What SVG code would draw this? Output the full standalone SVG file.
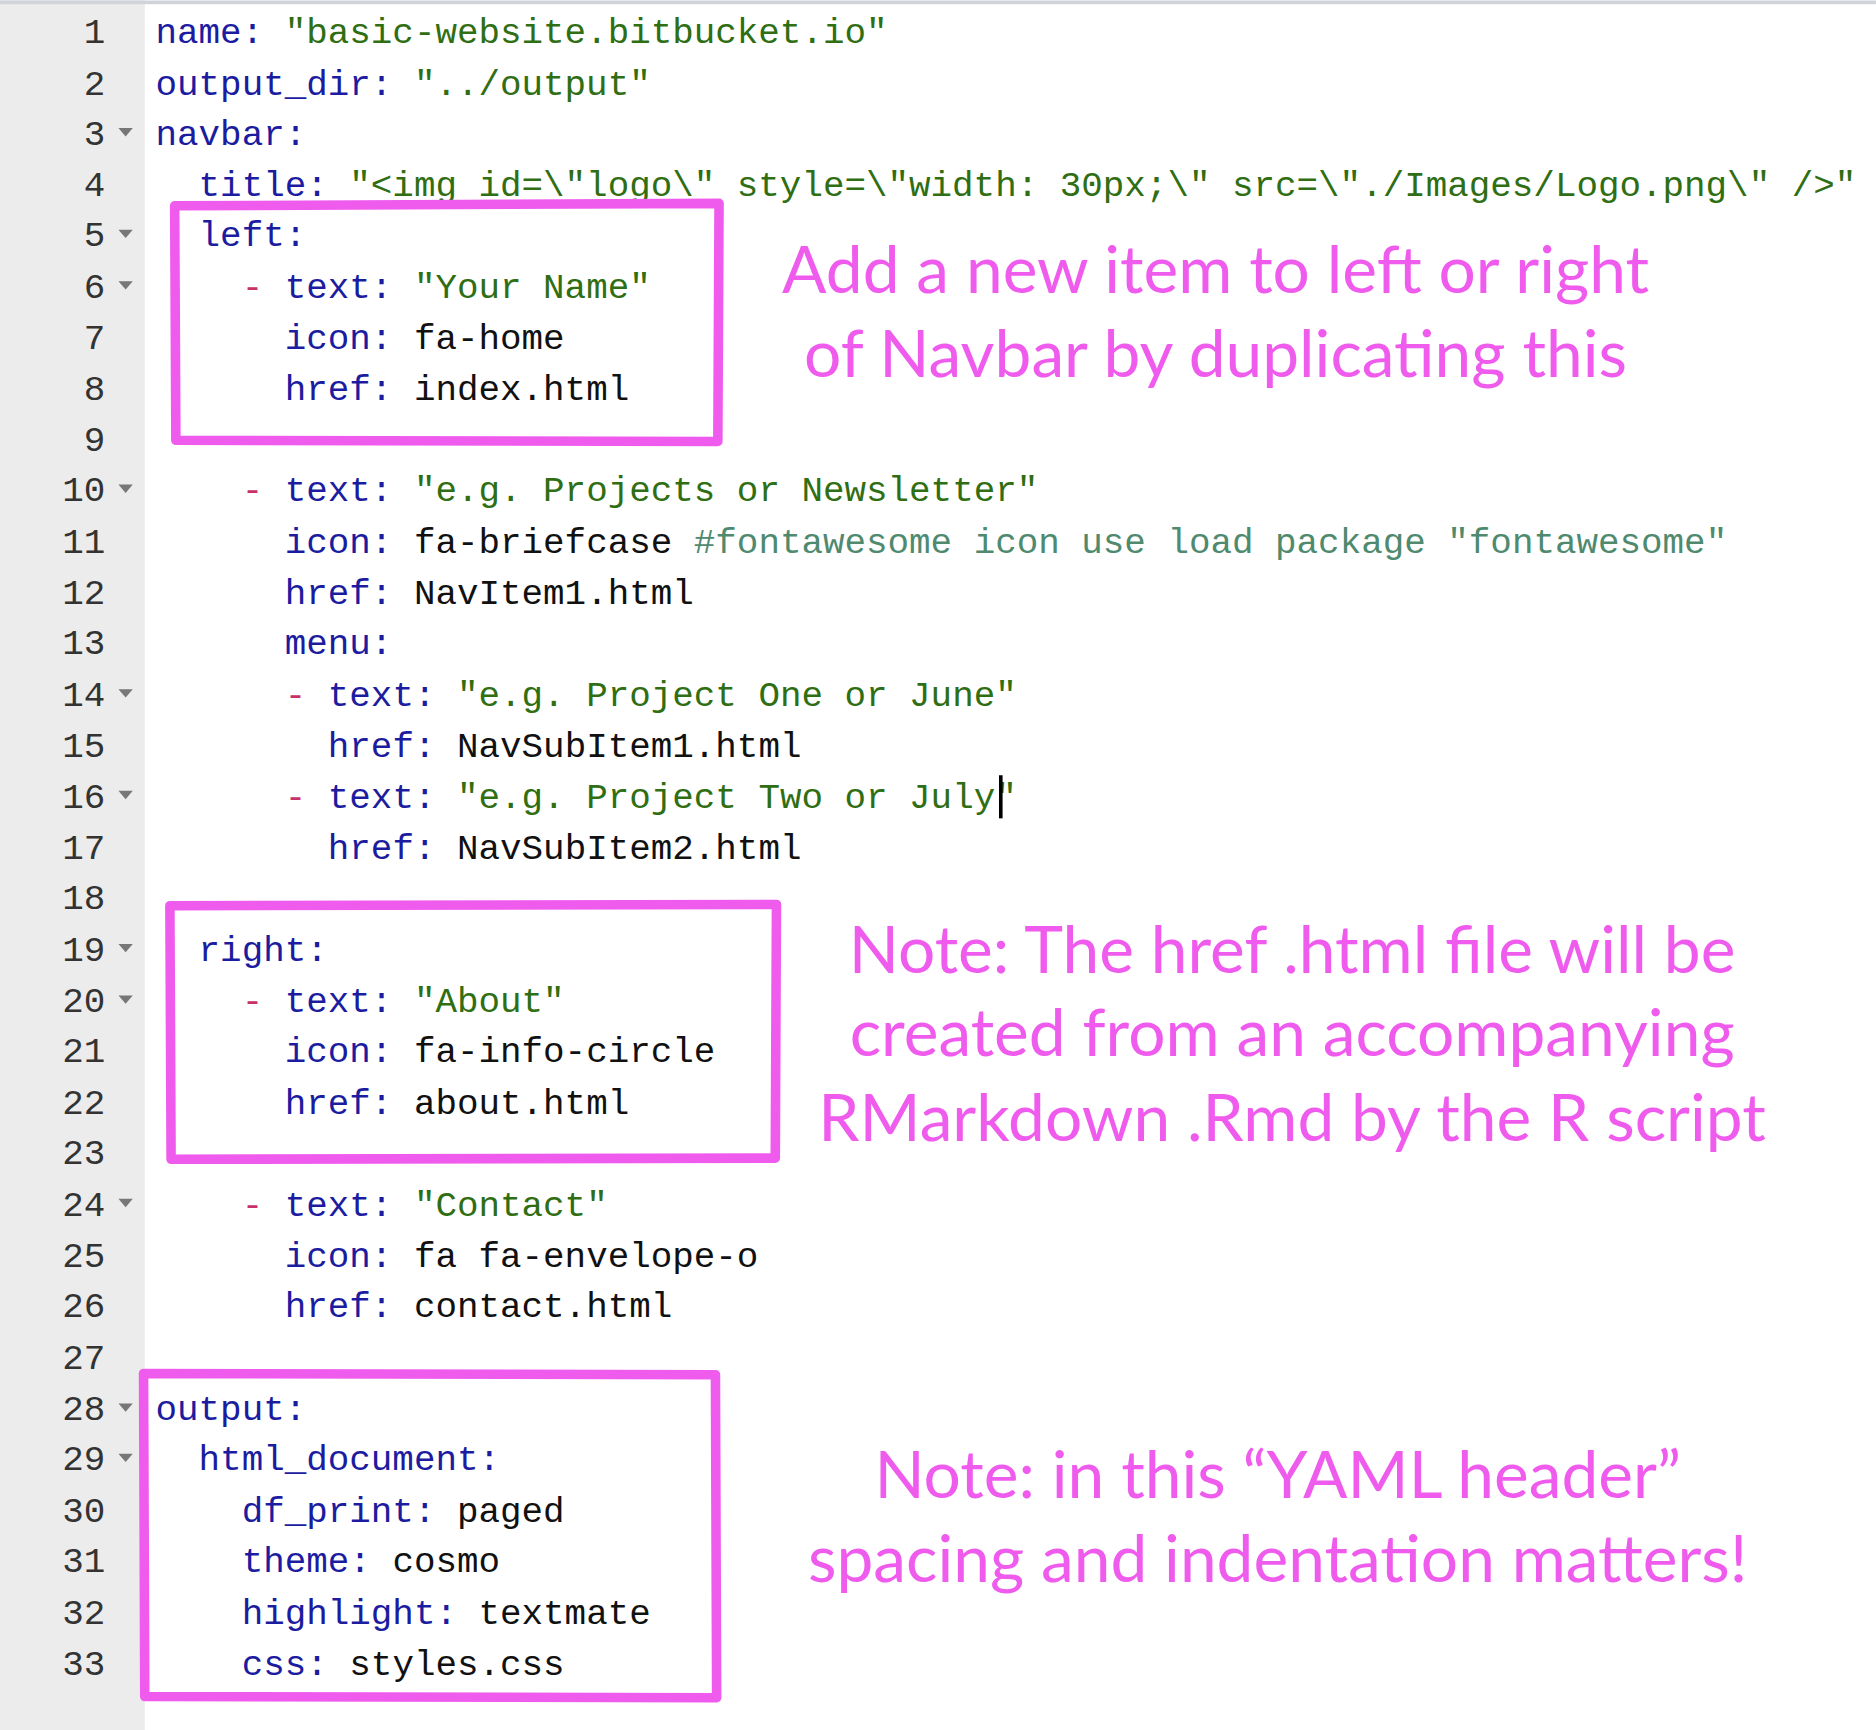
<svg xmlns="http://www.w3.org/2000/svg" width="1876" height="1730" viewBox="0 0 1876 1730" xml:space="preserve">
<style>
.c{font-family:"Liberation Mono",monospace;font-size:30px;white-space:pre}
.n{font-family:"Liberation Mono",monospace;font-size:30px;fill:#333;text-anchor:end}
.k{fill:#1c1ca0}.s{fill:#2f6e12}.v{fill:#111}.d{fill:#c8306a}.m{fill:#4f8a6f}
.a{font-family:Lato,"Open Sans",sans-serif;font-size:55px;fill:#ef5ced;text-anchor:middle}
.b{fill:none;stroke:#ef5ced;stroke-width:8;stroke-linejoin:round}
.f{fill:#777}
</style>
<rect width="1876" height="1730" fill="#fff"/>
<g transform="scale(1.1964)">
<rect x="0" y="0" width="121" height="1446" fill="#ececec"/>
<line x1="0" y1="2" x2="1568" y2="2" stroke="#d0d4da" stroke-width="3"/>
<g id="gutter">
<text class="n" x="88" y="36">1</text><text class="n" x="88" y="79">2</text><text class="n" x="88" y="121">3</text><text class="n" x="88" y="164">4</text><text class="n" x="88" y="206">5</text><text class="n" x="88" y="249">6</text><text class="n" x="88" y="292">7</text><text class="n" x="88" y="334">8</text><text class="n" x="88" y="377">9</text><text class="n" x="88" y="419">10</text><text class="n" x="88" y="462">11</text><text class="n" x="88" y="505">12</text><text class="n" x="88" y="547">13</text><text class="n" x="88" y="590">14</text><text class="n" x="88" y="633">15</text><text class="n" x="88" y="675">16</text><text class="n" x="88" y="718">17</text><text class="n" x="88" y="760">18</text><text class="n" x="88" y="803">19</text><text class="n" x="88" y="846">20</text><text class="n" x="88" y="888">21</text><text class="n" x="88" y="931">22</text><text class="n" x="88" y="973">23</text><text class="n" x="88" y="1016">24</text><text class="n" x="88" y="1059">25</text><text class="n" x="88" y="1101">26</text><text class="n" x="88" y="1144">27</text><text class="n" x="88" y="1187">28</text><text class="n" x="88" y="1229">29</text><text class="n" x="88" y="1272">30</text><text class="n" x="88" y="1314">31</text><text class="n" x="88" y="1357">32</text><text class="n" x="88" y="1400">33</text>
<g class="f">
<path d="M99,107h12l-6,7z"/><path d="M99,192h12l-6,7z"/><path d="M99,235h12l-6,7z"/><path d="M99,405h12l-6,7z"/><path d="M99,576h12l-6,7z"/><path d="M99,661h12l-6,7z"/><path d="M99,789h12l-6,7z"/><path d="M99,832h12l-6,7z"/><path d="M99,1002h12l-6,7z"/><path d="M99,1173h12l-6,7z"/><path d="M99,1215h12l-6,7z"/>
</g>
</g>
<g id="code" class="c">
<text x="130" y="36"><tspan class="k">name:</tspan> <tspan class="s">"basic-website.bitbucket.io"</tspan></text>
<text x="130" y="79"><tspan class="k">output_dir:</tspan> <tspan class="s">"../output"</tspan></text>
<text x="130" y="121"><tspan class="k">navbar:</tspan></text>
<text x="166" y="164"><tspan class="k">title:</tspan> <tspan class="s">"&lt;img id=\"logo\" style=\"width: 30px;\" src=\"./Images/Logo.png\" /&gt;"</tspan></text>
<text x="166" y="206"><tspan class="k">left:</tspan></text>
<text x="202" y="249"><tspan class="d">-</tspan> <tspan class="k">text:</tspan> <tspan class="s">"Your Name"</tspan></text>
<text x="238" y="292"><tspan class="k">icon:</tspan> <tspan class="v">fa-home</tspan></text>
<text x="238" y="334"><tspan class="k">href:</tspan> <tspan class="v">index.html</tspan></text>
<text x="202" y="419"><tspan class="d">-</tspan> <tspan class="k">text:</tspan> <tspan class="s">"e.g. Projects or Newsletter"</tspan></text>
<text x="238" y="462"><tspan class="k">icon:</tspan> <tspan class="v">fa-briefcase</tspan> <tspan class="m">#fontawesome icon use load package "fontawesome"</tspan></text>
<text x="238" y="505"><tspan class="k">href:</tspan> <tspan class="v">NavItem1.html</tspan></text>
<text x="238" y="547"><tspan class="k">menu:</tspan></text>
<text x="238" y="590"><tspan class="d">-</tspan> <tspan class="k">text:</tspan> <tspan class="s">"e.g. Project One or June"</tspan></text>
<text x="274" y="633"><tspan class="k">href:</tspan> <tspan class="v">NavSubItem1.html</tspan></text>
<text x="238" y="675"><tspan class="d">-</tspan> <tspan class="k">text:</tspan> <tspan class="s">"e.g. Project Two or July"</tspan></text>
<text x="274" y="718"><tspan class="k">href:</tspan> <tspan class="v">NavSubItem2.html</tspan></text>
<text x="166" y="803"><tspan class="k">right:</tspan></text>
<text x="202" y="846"><tspan class="d">-</tspan> <tspan class="k">text:</tspan> <tspan class="s">"About"</tspan></text>
<text x="238" y="888"><tspan class="k">icon:</tspan> <tspan class="v">fa-info-circle</tspan></text>
<text x="238" y="931"><tspan class="k">href:</tspan> <tspan class="v">about.html</tspan></text>
<text x="202" y="1016"><tspan class="d">-</tspan> <tspan class="k">text:</tspan> <tspan class="s">"Contact"</tspan></text>
<text x="238" y="1059"><tspan class="k">icon:</tspan> <tspan class="v">fa fa-envelope-o</tspan></text>
<text x="238" y="1101"><tspan class="k">href:</tspan> <tspan class="v">contact.html</tspan></text>
<text x="130" y="1187"><tspan class="k">output:</tspan></text>
<text x="166" y="1229"><tspan class="k">html_document:</tspan></text>
<text x="202" y="1272"><tspan class="k">df_print:</tspan> <tspan class="v">paged</tspan></text>
<text x="202" y="1314"><tspan class="k">theme:</tspan> <tspan class="v">cosmo</tspan></text>
<text x="202" y="1357"><tspan class="k">highlight:</tspan> <tspan class="v">textmate</tspan></text>
<text x="202" y="1400"><tspan class="k">css:</tspan> <tspan class="v">styles.css</tspan></text>
</g>
<rect x="835" y="648" width="3" height="36" fill="#000"/>
<g id="box-left"><path class="b" d="M146,172 L601,170 L600,369 L147,368 Z"/></g>
<g id="box-right"><path class="b" d="M142,757 L649,756 L648,968 L143,969 Z"/></g>
<g id="box-output"><path class="b" d="M120,1148 L598,1149 L599,1419 L121,1418 Z"/></g>
<g id="notes">
<text class="a" x="1016" y="245">Add a new item to left or right</text>
<text class="a" x="1016" y="315">of Navbar by duplicating this</text>
<text class="a" x="1080" y="813">Note: The href .html file will be</text>
<text class="a" x="1080" y="883">created from  an accompanying</text>
<text class="a" x="1080" y="954">RMarkdown .Rmd by the R script</text>
<text class="a" x="1068" y="1252">Note: in this “YAML header”</text>
<text class="a" x="1068" y="1322">spacing and indentation matters!</text>
</g>
</g>
</svg>
